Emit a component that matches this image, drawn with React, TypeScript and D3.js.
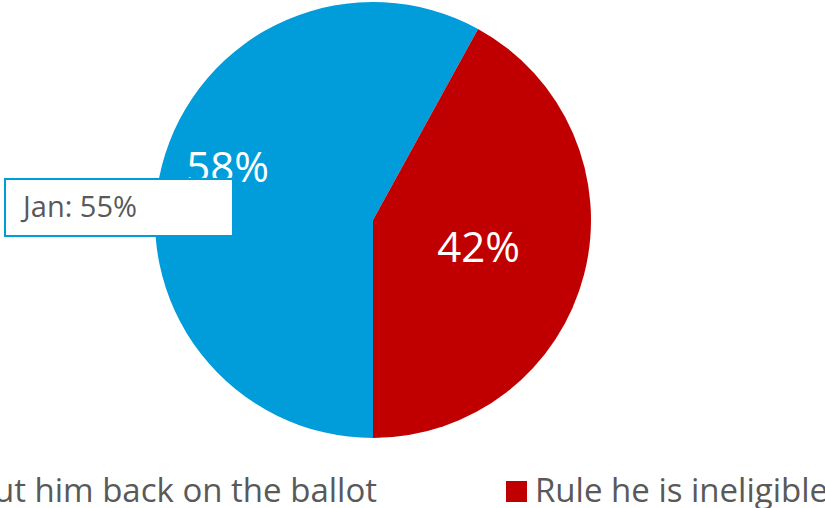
import React from "react";
import * as d3 from "d3";

const categories = ["Put him back on the ballot", "Rule he is ineligible"];
const values = [58, 42];
const colors = ["#009DDA", "#C00000"];
const labelRadiusFactor = [0.71, 0.5];
const labelAngleShift = [0.098, 0];
const annotationText = "Jan: 55%";

const W = 825;
const H = 508;

export default function App() {
  const cx = 373;
  const cy = 220;
  const r = 218;
  const pie = d3
    .pie<number>()
    .sort(null)
    .startAngle(Math.PI)
    .endAngle(Math.PI * 3)
    .value((d) => d);
  const arcs = pie(values);
  const arc = d3.arc<d3.PieArcDatum<number>>().innerRadius(0).outerRadius(r);
  const font = "'Open Sans', sans-serif";

  return (
    <svg
      width={W}
      height={H}
      style={{ position: "absolute", left: 0, top: 0, background: "#fff" }}
    >
      <g transform={`translate(${cx},${cy})`}>
        {arcs.map((a, i) => (
          <path key={i} d={arc(a) || ""} fill={colors[i]} />
        ))}
        {arcs.map((a, i) => {
          const mid = (a.startAngle + a.endAngle) / 2 + labelAngleShift[i];
          const lr = r * labelRadiusFactor[i];
          const x = lr * Math.sin(mid);
          const y = -lr * Math.cos(mid);
          return (
            <text
              key={i}
              x={x}
              y={y}
              textAnchor="middle"
              dy="0.36em"
              fill="#fff"
              fontFamily={font}
              fontSize={42}
            >
              {`${values[i]}%`}
            </text>
          );
        })}
      </g>
      <rect x={5} y={179} width={228} height={57} fill="#fff" stroke="#009DDA" strokeWidth={2} />
      <text x={23} y={217} fill="#595959" fontFamily={font} fontSize={29}>
        {annotationText}
      </text>
      {/* legend */}
      <g>
        <rect x={-60} y={481} width={21} height={21} fill={colors[0]} />
        <text x={377} y={502} textAnchor="end" fill="#595959" fontFamily={font} fontSize={33}>
          {categories[0]}
        </text>
        <rect x={506} y={481} width={21} height={21} fill={colors[1]} />
        <text x={535} y={502} fill="#595959" fontFamily={font} fontSize={33}>
          {categories[1]}
        </text>
      </g>
    </svg>
  );
}
